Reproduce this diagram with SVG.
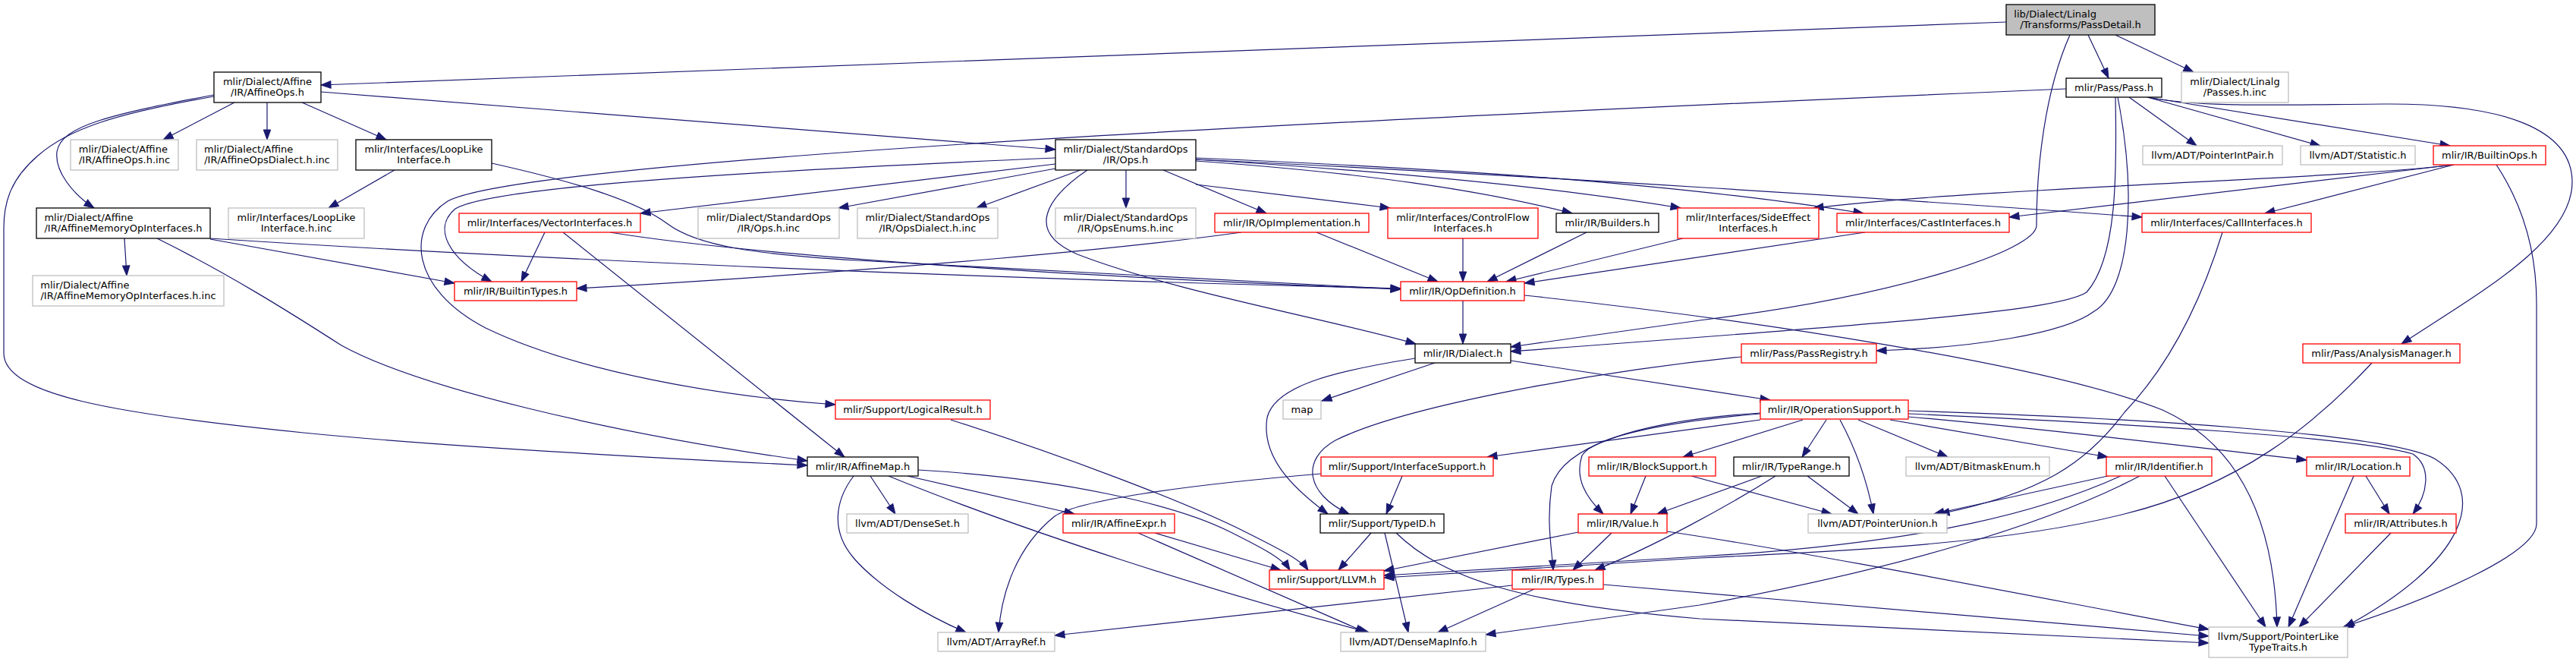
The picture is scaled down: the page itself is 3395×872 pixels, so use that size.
<svg xmlns="http://www.w3.org/2000/svg" width="3395" height="872" viewBox="0 0 3395 872">
<style>
rect{fill:#fff;stroke-width:1.3}
.b rect{stroke:#000}
.r rect{stroke:#ff0000}
.g rect{stroke:#bfbfbf}
.root rect{fill:#bfbfbf;stroke:#000}
text{font-family:"DejaVu Sans","Liberation Sans",sans-serif;font-size:13px;text-anchor:middle;fill:#000}
text.l{text-anchor:start}
#edges path{fill:none;stroke:#191970;stroke-width:1.2;marker-end:url(#a)}
</style>
<defs>
<marker id="a" markerUnits="userSpaceOnUse" markerWidth="14" markerHeight="10" refX="13" refY="4.7" orient="auto" viewBox="0 0 14 10" style="overflow:visible"><path d="M0,0 L13,4.7 L0,9.4 z" fill="#191970" stroke="#191970" stroke-width="1"/></marker>
</defs>
<rect x="0" y="0" width="3395" height="872" style="fill:#fff;stroke:none"/>
<g id="edges">
<path d="M2644,29 L423,112"/>
<path d="M2752,46 L2779,103"/>
<path d="M2788,46 L2891,95"/>
<path d="M2728,46 C2695,120 2684,220 2684,297 C2684,330 2500,390 2240,422 L1991,457"/>
<path d="M2788,128 C2790,230 2790,340 2750,385 C2710,410 2500,425 1991,463"/>
<path d="M2791,128 C2815,250 2810,380 2760,410 C2720,440 2600,458 2473,462"/>
<path d="M2723,117 C2000,148 700,205 590,265 C535,300 540,380 640,432 C760,490 950,522 1101,533"/>
<path d="M423,121 L1391,197"/>
<path d="M309,135 L215,184"/>
<path d="M352,135 L352,184"/>
<path d="M398,135 L509,184"/>
<path d="M282,125 C150,150 80,165 75,200 C72,225 95,255 124,274"/>
<path d="M282,127 C150,150 90,170 50,205 C15,235 5,265 5,300 L5,465 C5,520 150,545 400,570 C600,590 900,605 1064,613"/>
<path d="M520,224 L433,274"/>
<path d="M648,215 C760,240 840,265 880,295 C920,325 1000,335 1130,343 L1846,381"/>
<path d="M277,314 C600,335 1200,365 1846,380"/>
<path d="M277,315 L599,373"/>
<path d="M207,314 C300,360 380,410 450,455 C550,510 800,570 1064,607"/>
<path d="M164,314 L167,363"/>
<path d="M1391,208 C1000,225 650,245 600,275 C570,300 590,340 648,371"/>
<path d="M1391,216 L844,281"/>
<path d="M1391,222 L1105,274"/>
<path d="M1424,224 L1287,274"/>
<path d="M1484,224 L1484,274"/>
<path d="M1533,224 L1669,281"/>
<path d="M1433,224 C1380,260 1350,305 1420,335 C1550,385 1750,420 1866,453"/>
<path d="M1576,243 L1832,274"/>
<path d="M1576,212 C1800,228 1950,250 2072,281"/>
<path d="M1576,210 C1900,230 2100,255 2215,274"/>
<path d="M1576,208 C1900,222 2200,240 2456,281"/>
<path d="M1576,210 C2000,230 2500,262 2823,286"/>
<path d="M718,306 L687,371"/>
<path d="M742,306 L1113,602"/>
<path d="M804,306 C950,330 1300,360 1846,381"/>
<path d="M1636,306 C1500,325 1200,355 760,380"/>
<path d="M1735,306 L1895,371"/>
<path d="M1928,314 L1928,371"/>
<path d="M2091,306 L1960,371"/>
<path d="M2218,314 L1985,371"/>
<path d="M2458,306 L2009,373"/>
<path d="M3234,217 C3100,235 2600,248 2390,274"/>
<path d="M3234,217 L2648,286"/>
<path d="M3234,217 L2985,281"/>
<path d="M3290,217 C3325,270 3343,330 3343,400 L3343,690 C3343,730 3200,790 3088,826"/>
<path d="M2806,128 L2895,192"/>
<path d="M2830,128 L3058,192"/>
<path d="M2830,128 L3229,192"/>
<path d="M2830,128 C2900,142 3000,138 3142,137 C3300,136 3390,170 3390,240 C3390,320 3260,390 3165,453"/>
<path d="M1928,396 L1928,453"/>
<path d="M2009,389 C2300,420 2700,480 2850,540 C2960,590 2998,700 3001,826"/>
<path d="M1891,478 L1742,528"/>
<path d="M1865,472 C1750,490 1680,510 1670,550 C1662,600 1700,640 1750,677"/>
<path d="M1991,475 L2333,527"/>
<path d="M2295,470 C2100,490 1850,535 1760,580 C1715,605 1720,650 1778,677"/>
<path d="M2407,553 L2375,602"/>
<path d="M2425,553 C2445,590 2460,630 2469,677"/>
<path d="M2449,553 L2567,602"/>
<path d="M2491,553 L2778,602"/>
<path d="M2515,549 C2700,565 2900,590 3040,606"/>
<path d="M2515,545 C2800,558 3100,575 3180,598 C3205,615 3200,650 3180,677"/>
<path d="M2515,541 C2800,550 3150,570 3210,605 C3280,650 3250,740 3090,826"/>
<path d="M2320,545 C2200,555 2100,575 2085,600 C2075,630 2090,655 2113,677"/>
<path d="M2320,544 C2150,555 2060,590 2045,640 C2038,690 2045,720 2047,751"/>
<path d="M2320,553 L1960,602"/>
<path d="M2376,553 L2218,602"/>
<path d="M2322,627 L2184,677"/>
<path d="M2340,627 C2280,665 2180,720 2102,751"/>
<path d="M2382,627 L2449,677"/>
<path d="M2229,627 L2414,677"/>
<path d="M2169,627 L2149,677"/>
<path d="M2778,627 L2549,677"/>
<path d="M2929,306 C2900,400 2860,480 2800,543 C2750,610 2690,650 2556,677"/>
<path d="M2795,627 C2700,670 2550,715 2240,733 L1824,758"/>
<path d="M3126,478 C3050,560 2950,640 2800,677 C2650,715 2450,725 2240,735 L1824,761"/>
<path d="M2820,627 C2700,690 2500,750 2240,797 L1958,836"/>
<path d="M2853,627 L2986,826"/>
<path d="M3102,627 L3016,826"/>
<path d="M3118,627 L3149,677"/>
<path d="M3151,702 L3030,826"/>
<path d="M2080,701 L1824,752"/>
<path d="M2124,702 L2073,751"/>
<path d="M2197,700 C2400,730 2700,790 2911,829"/>
<path d="M2113,770 L2911,838"/>
<path d="M1840,702 C1900,760 2000,795 2240,815 L2911,847"/>
<path d="M1807,702 L1764,751"/>
<path d="M1825,702 L1856,833"/>
<path d="M1848,627 L1827,677"/>
<path d="M1741,624 C1550,640 1420,660 1390,680 C1340,720 1320,780 1316,833"/>
<path d="M2022,776 L1895,833"/>
<path d="M1993,771 L1390,837"/>
<path d="M1147,627 L1180,677"/>
<path d="M1196,627 L1416,677"/>
<path d="M1125,627 C1100,660 1095,700 1125,735 C1160,775 1220,810 1273,833"/>
<path d="M1171,627 C1350,700 1600,780 1804,833"/>
<path d="M1210,619 C1400,630 1550,665 1620,700 C1660,720 1690,735 1700,751"/>
<path d="M1522,702 L1688,751"/>
<path d="M1500,702 L1800,833"/>
<path d="M1253,553 C1400,600 1560,660 1640,700 C1690,725 1715,738 1724,751"/>
</g>
<g id="n0" class="root"><rect x="2644" y="6" width="196" height="40"/><text class="l" x="2654.3" y="22.5">lib/Dialect/Linalg</text><text x="2742" y="37">/Transforms/PassDetail.h</text></g>
<g id="n1" class="b"><rect x="282" y="95" width="141" height="40"/><text x="352.5" y="111.5">mlir/Dialect/Affine</text><text x="352.5" y="126">/IR/AffineOps.h</text></g>
<g id="n2" class="b"><rect x="2723" y="103" width="126" height="25"/><text x="2786" y="120">mlir/Pass/Pass.h</text></g>
<g id="n3" class="g"><rect x="2875" y="95" width="141" height="40"/><text x="2945.5" y="111.5">mlir/Dialect/Linalg</text><text x="2945.5" y="126">/Passes.h.inc</text></g>
<g id="n4" class="g"><rect x="93" y="184" width="142" height="40"/><text class="l" x="103.8" y="200.5">mlir/Dialect/Affine</text><text x="164" y="215">/IR/AffineOps.h.inc</text></g>
<g id="n5" class="g"><rect x="259" y="184" width="186" height="40"/><text class="l" x="269.1" y="200.5">mlir/Dialect/Affine</text><text x="352" y="215">/IR/AffineOpsDialect.h.inc</text></g>
<g id="n6" class="b"><rect x="469" y="184" width="179" height="40"/><text x="558.5" y="200.5">mlir/Interfaces/LoopLike</text><text x="558.5" y="215">Interface.h</text></g>
<g id="n7" class="b"><rect x="1391" y="184" width="185" height="40"/><text x="1483.5" y="200.5">mlir/Dialect/StandardOps</text><text x="1483.5" y="215">/IR/Ops.h</text></g>
<g id="n8" class="g"><rect x="2824" y="192" width="184" height="25"/><text x="2916" y="209">llvm/ADT/PointerIntPair.h</text></g>
<g id="n9" class="g"><rect x="3032" y="192" width="151" height="25"/><text x="3107.5" y="209">llvm/ADT/Statistic.h</text></g>
<g id="n10" class="r"><rect x="3207" y="192" width="148" height="25"/><text x="3281" y="209">mlir/IR/BuiltinOps.h</text></g>
<g id="n11" class="b"><rect x="48" y="274" width="229" height="40"/><text class="l" x="58.4" y="290.5">mlir/Dialect/Affine</text><text x="162.5" y="305">/IR/AffineMemoryOpInterfaces.h</text></g>
<g id="n12" class="g"><rect x="301" y="274" width="179" height="40"/><text x="390.5" y="290.5">mlir/Interfaces/LoopLike</text><text x="390.5" y="305">Interface.h.inc</text></g>
<g id="n13" class="r"><rect x="605" y="281" width="239" height="25"/><text x="724.5" y="298">mlir/Interfaces/VectorInterfaces.h</text></g>
<g id="n14" class="g"><rect x="920" y="274" width="186" height="40"/><text x="1013" y="290.5">mlir/Dialect/StandardOps</text><text x="1013" y="305">/IR/Ops.h.inc</text></g>
<g id="n15" class="g"><rect x="1130" y="274" width="185" height="40"/><text x="1222.5" y="290.5">mlir/Dialect/StandardOps</text><text x="1222.5" y="305">/IR/OpsDialect.h.inc</text></g>
<g id="n16" class="g"><rect x="1391" y="274" width="185" height="40"/><text x="1483.5" y="290.5">mlir/Dialect/StandardOps</text><text x="1483.5" y="305">/IR/OpsEnums.h.inc</text></g>
<g id="n17" class="r"><rect x="1601" y="281" width="203" height="25"/><text x="1702.5" y="298">mlir/IR/OpImplementation.h</text></g>
<g id="n18" class="r"><rect x="1829" y="274" width="198" height="40"/><text x="1928" y="290.5">mlir/Interfaces/ControlFlow</text><text x="1928" y="305">Interfaces.h</text></g>
<g id="n19" class="b"><rect x="2051" y="281" width="135" height="25"/><text x="2118.5" y="298">mlir/IR/Builders.h</text></g>
<g id="n20" class="r"><rect x="2211" y="274" width="186" height="40"/><text x="2304" y="290.5">mlir/Interfaces/SideEffect</text><text x="2304" y="305">Interfaces.h</text></g>
<g id="n21" class="r"><rect x="2421" y="281" width="227" height="25"/><text x="2534.5" y="298">mlir/Interfaces/CastInterfaces.h</text></g>
<g id="n22" class="r"><rect x="2823" y="281" width="223" height="25"/><text x="2934.5" y="298">mlir/Interfaces/CallInterfaces.h</text></g>
<g id="n23" class="g"><rect x="43" y="363" width="252" height="40"/><text class="l" x="53.3" y="379.5">mlir/Dialect/Affine</text><text x="169" y="394">/IR/AffineMemoryOpInterfaces.h.inc</text></g>
<g id="n24" class="r"><rect x="599" y="371" width="161" height="25"/><text x="679.5" y="388">mlir/IR/BuiltinTypes.h</text></g>
<g id="n25" class="r"><rect x="1846" y="371" width="163" height="25"/><text x="1927.5" y="388">mlir/IR/OpDefinition.h</text></g>
<g id="n26" class="b"><rect x="1865" y="453" width="126" height="25"/><text x="1928" y="470">mlir/IR/Dialect.h</text></g>
<g id="n27" class="r"><rect x="2295" y="453" width="178" height="25"/><text x="2384" y="470">mlir/Pass/PassRegistry.h</text></g>
<g id="n28" class="r"><rect x="3035" y="453" width="207" height="25"/><text x="3138.5" y="470">mlir/Pass/AnalysisManager.h</text></g>
<g id="n29" class="r"><rect x="1101" y="527" width="204" height="25"/><text x="1203" y="544">mlir/Support/LogicalResult.h</text></g>
<g id="n30" class="g"><rect x="1691" y="527" width="50" height="25"/><text x="1716" y="544">map</text></g>
<g id="n31" class="r"><rect x="2320" y="527" width="195" height="25"/><text x="2417.5" y="544">mlir/IR/OperationSupport.h</text></g>
<g id="n32" class="b"><rect x="1064" y="602" width="146" height="25"/><text x="1137" y="619">mlir/IR/AffineMap.h</text></g>
<g id="n33" class="r"><rect x="1741" y="602" width="227" height="25"/><text x="1854.5" y="619">mlir/Support/InterfaceSupport.h</text></g>
<g id="n34" class="r"><rect x="2094" y="602" width="167" height="25"/><text x="2177.5" y="619">mlir/IR/BlockSupport.h</text></g>
<g id="n35" class="b"><rect x="2285" y="602" width="152" height="25"/><text x="2361" y="619">mlir/IR/TypeRange.h</text></g>
<g id="n36" class="g"><rect x="2512" y="602" width="189" height="25"/><text x="2606.5" y="619">llvm/ADT/BitmaskEnum.h</text></g>
<g id="n37" class="r"><rect x="2776" y="602" width="139" height="25"/><text x="2845.5" y="619">mlir/IR/Identifier.h</text></g>
<g id="n38" class="r"><rect x="3040" y="602" width="136" height="25"/><text x="3108" y="619">mlir/IR/Location.h</text></g>
<g id="n39" class="g"><rect x="1116" y="677" width="160" height="25"/><text x="1196" y="694">llvm/ADT/DenseSet.h</text></g>
<g id="n40" class="r"><rect x="1401" y="677" width="147" height="25"/><text x="1474.5" y="694">mlir/IR/AffineExpr.h</text></g>
<g id="n41" class="b"><rect x="1740" y="677" width="163" height="25"/><text x="1821.5" y="694">mlir/Support/TypeID.h</text></g>
<g id="n42" class="r"><rect x="2080" y="677" width="117" height="25"/><text x="2138.5" y="694">mlir/IR/Value.h</text></g>
<g id="n43" class="g"><rect x="2383" y="677" width="183" height="25"/><text x="2474.5" y="694">llvm/ADT/PointerUnion.h</text></g>
<g id="n44" class="r"><rect x="3091" y="677" width="146" height="25"/><text x="3164" y="694">mlir/IR/Attributes.h</text></g>
<g id="n45" class="r"><rect x="1673" y="751" width="151" height="25"/><text x="1748.5" y="768">mlir/Support/LLVM.h</text></g>
<g id="n46" class="r"><rect x="1993" y="751" width="120" height="25"/><text x="2053" y="768">mlir/IR/Types.h</text></g>
<g id="n47" class="g"><rect x="1236" y="833" width="154" height="25"/><text x="1313" y="850">llvm/ADT/ArrayRef.h</text></g>
<g id="n48" class="g"><rect x="1767" y="833" width="191" height="25"/><text x="1862.5" y="850">llvm/ADT/DenseMapInfo.h</text></g>
<g id="n49" class="g"><rect x="2911" y="826" width="183" height="40"/><text x="3002.5" y="842.5">llvm/Support/PointerLike</text><text x="3002.5" y="857">TypeTraits.h</text></g>
</svg>
